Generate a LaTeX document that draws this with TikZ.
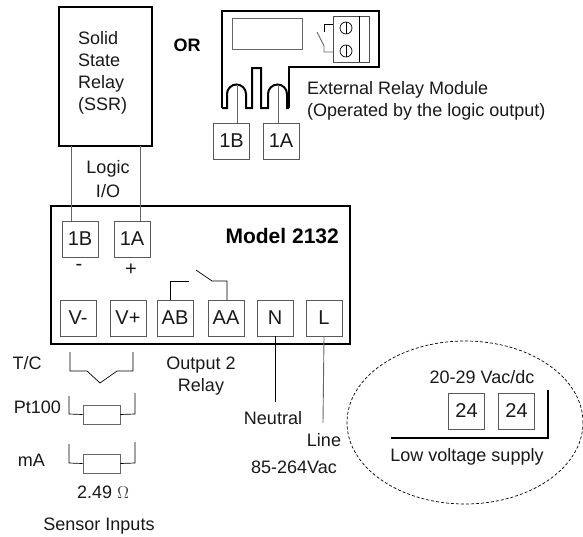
\documentclass[tikz,border=0pt]{standalone}
\usepackage{fontspec}
\setmainfont{Liberation Sans}
\usetikzlibrary{shapes.geometric}
\begin{document}
\begin{tikzpicture}[x=1pt,y=-1pt,
  term/.style={draw=black!65,line width=.8pt,minimum width=36pt,minimum height=36pt,inner sep=0pt,font=\fontsize{20}{22}\selectfont,text=black!90},
  lab/.style={inner sep=0pt,font=\fontsize{18}{22}\selectfont,text=black!90,align=center},
  bigbox/.style={draw=black,line width=2pt,inner sep=0pt},
  wire/.style={draw=black,line width=.7pt},
  gwire/.style={draw=black!60,line width=.9pt}]
\useasboundingbox (0,0) rectangle (583,536);
\fill[white] (0,0) rectangle (583,536);
% SSR
\node[bigbox,minimum width=93pt,minimum height=139pt] (ssr) at (105.5,76.5) {};
\node[lab,align=left,anchor=west] (ssrt) at (78,73) {Solid\\State\\Relay\\(SSR)};
\node[lab,font=\fontsize{18}{22}\selectfont\bfseries,text=black] (or) at (187,45) {OR};
% module
\draw[line width=2pt,line join=miter] (222,108) -- (222,11) -- (379,11) -- (379,67) -- (289,67) -- (289,108);
\draw[line width=2pt] (289,108) -- (287,108) -- (287,94) arc[start angle=0,end angle=-180,radius=9.5] -- (268,108) -- (261,108) -- (261,68) -- (252,68) -- (252,108) -- (246,108) -- (246,94) arc[start angle=0,end angle=-180,radius=9.5] -- (227,108) -- (222,108);
\node[draw=black!60,line width=.9pt,minimum width=70pt,minimum height=31pt,inner sep=0pt] (win) at (267,33.5) {};
\node[draw=black!70,line width=.8pt,minimum width=36pt,minimum height=46pt,inner sep=0pt] (tb) at (351,39) {};
\coordinate (tdt) at (359,16); \coordinate (tdb) at (359,62);
\draw[wire] (tdt) -- (tdb);
\foreach \n/\y in {sa/28,sb/51}{
  \node[circle,draw=black,line width=.7pt,minimum size=12pt,inner sep=0pt] (\n) at (346,\y) {};
  \draw[wire] (\n.north) -- (\n.south);
}
\draw[wire] (333,24) -- (324,24) -- (324,32);
\draw[gwire] (317,32) -- (324,46) -- (324,52) -- (333,52);
\node[term] (m1b) at (231.5,141) {1B};
\node[term] (m1a) at (281,141) {1A};
\coordinate (a1) at (237,84.5); \coordinate (a2) at (278,84.5);
\draw[gwire] (a1) -- (a1 |- m1b.north);
\draw[gwire] (a2) -- (a2 |- m1a.north);
\node[lab,anchor=west] (ext) at (307,90) {External Relay Module};
\node[lab,anchor=west] (opby) at (307,112) {(Operated by the logic output)};
% main box
\node[bigbox,minimum width=299pt,minimum height=138pt] (main) at (200.5,275) {};
\node[lab,font=\fontsize{21}{24}\selectfont\bfseries,text=black,anchor=base east] (model) at (339,243) {Model 2132};
\node[term] (b1b) at (80,239) {1B};
\node[term] (b1a) at (132,239) {1A};
\node[term] (vm) at (78,318) {V-};
\node[term] (vp) at (128,318) {V+};
\node[term] (ab) at (175,318) {AB};
\node[term] (aa) at (226,318) {AA};
\node[term] (n) at (275,318) {N};
\node[term] (l) at (324,318) {L};
\node[lab,font=\fontsize{20}{22}\selectfont] (minus) at (79,267) {-};
\node[lab,font=\fontsize{20}{22}\selectfont] (plus) at (131,270) {+};
\draw[gwire] (71,146) -- (71,221);
\draw[gwire] (140,146) -- (140,221);
\node[lab] (logic) at (108,169) {Logic};
\node[lab] (io) at (108,191) {I/O};
\draw[wire] (170,300) -- (170,281) -- (189,281);
\draw[wire] (227,300) -- (227,281) -- (212,281) -- (196,270);
\coordinate (ne) at (275,402); \coordinate (le) at (323,423);
\draw[wire] (n.south) -- (ne);
\draw[gwire] (l.south) -- (le);
% sensors
\draw[wire] (70,352) -- (70,371) -- (87,371) -- (100,383) -- (117,371) -- (133,371) -- (133,352);
\node[draw=black!60,line width=.9pt,minimum width=37pt,minimum height=19pt,inner sep=0pt] (r1) at (101.5,414.5) {};
\node[draw=black!60,line width=.9pt,minimum width=37pt,minimum height=19pt,inner sep=0pt] (r2) at (101.5,463.5) {};
\draw[wire] (69,396) -- (69,414) -- (r1.west);
\draw[wire] (r1.east) -- (135,414) -- (135,393);
\draw[wire] (69,444) -- (69,463) -- (r2.west);
\draw[wire] (r2.east) -- (135,463) -- (135,442);
\node[lab] (tc) at (27,363) {T/C};
\node[lab,anchor=east] (pt) at (61,407) {Pt100};
\node[lab,anchor=east] (ma) at (45,460) {mA};
\node[lab] (ohm) at (103,492) {2.49 $\Omega$};
\node[lab] (si) at (99,526) {Sensor Inputs};
\node[lab] (o2) at (201,376.5) {Output 2\\Relay};
\node[lab] (neu) at (273,418) {Neutral};
\node[lab] (line) at (324,440) {Line};
\node[lab] (v85) at (294,467) {85-264Vac};
% low voltage
\node[ellipse,draw=black,densely dashed,line width=.7pt,minimum width=236pt,minimum height=163pt,inner sep=0pt] (ell) at (465,422.5) {};
\node[lab] (v20) at (482,377) {20-29 Vac/dc};
\node[term] (t1) at (466.5,411) {24};
\node[term] (t2) at (516.5,411) {24};
\draw[line width=2pt] (391,438) -- (548,438) -- (548,390);
\node[lab] (lv) at (467,457) {Low voltage supply};
\end{tikzpicture}
\end{document}
